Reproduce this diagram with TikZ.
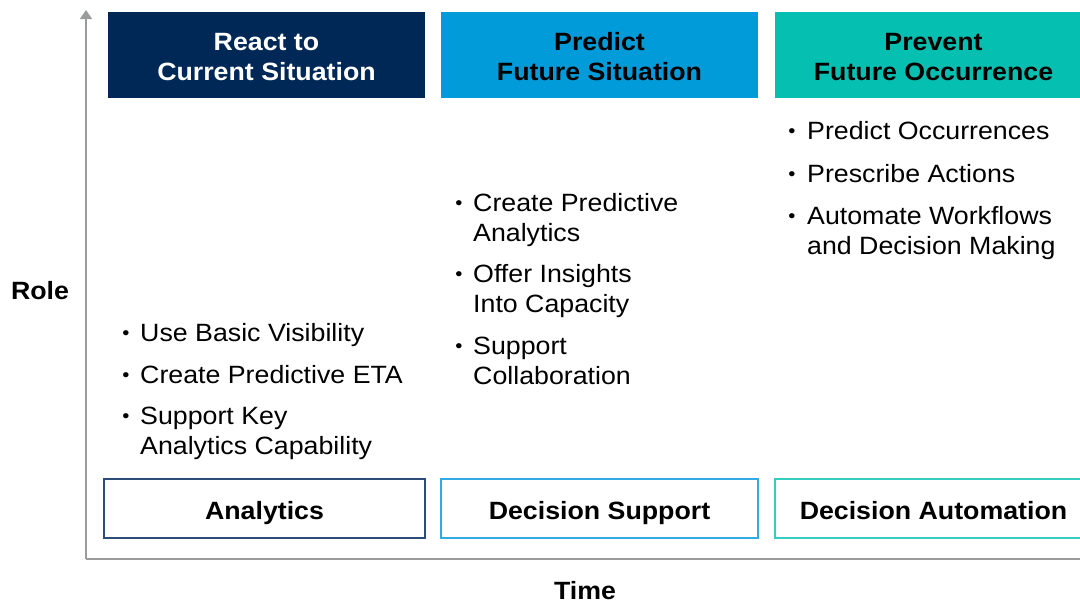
\documentclass[tikz,border=0pt]{standalone}
\usepackage{fontspec}
\setmainfont{Liberation Sans}[FakeStretch=1.07]
\usetikzlibrary{arrows.meta}
\definecolor{navy}{HTML}{002856}
\definecolor{sky}{HTML}{009BD8}
\definecolor{teal}{HTML}{05C0B1}
\definecolor{navyline}{HTML}{2D4D78}
\definecolor{skyline}{HTML}{32AAE2}
\definecolor{tealline}{HTML}{33CEBF}
\definecolor{axisgray}{HTML}{9A9C9C}
\newcommand{\twoline}[2]{\begin{tabular}[t]{@{}l@{}}#1\\#2\end{tabular}}
\newcommand{\twolinec}[2]{\begin{tabular}[t]{@{}c@{}}#1\\#2\end{tabular}}
\tikzset{
  head/.style={minimum height=86pt, minimum width=317pt, inner sep=0pt, text height=10pt, text depth=19pt, font=\fontsize{25}{29.5}\selectfont\bfseries},
  foot/.style={minimum height=59pt, inner sep=0pt, line width=1.8pt, fill=white, text height=21pt, text depth=0pt, font=\fontsize{25}{26}\selectfont\bfseries},
  item/.style={anchor=base west, inner sep=0pt, font=\fontsize{25}{30}\selectfont},
  dot/.style={anchor=base, inner sep=0pt, font=\fontsize{19}{20}\selectfont},
  axislbl/.style={inner sep=0pt, font=\fontsize{25}{26}\selectfont\bfseries},
}
\begin{document}
\begin{tikzpicture}[x=1pt,y=-1pt]
\useasboundingbox (0,0) rectangle (1080,605);
% axes
\coordinate (origin) at (86,559);
\coordinate (ytop) at (86,10);
\coordinate (xend) at (1085,559);
\draw[axisgray, line width=1.5pt, -{Triangle[length=9pt,width=12pt]}] (origin) -- (ytop);
\draw[axisgray, line width=1.5pt] (origin) -- (xend);
\node[axislbl] (role) at (40,291) {Role};
\node[axislbl] (time) at (585,591) {Time};
% headers
\node[head, fill=navy, text=white] (h1) at (266.5,55) {\twolinec{React to}{Current Situation}};
\node[head, fill=sky, text=black] (h2) at (599.5,55) {\twolinec{Predict}{Future Situation}};
\node[head, fill=teal, text=black] (h3) at (933.5,55) {\twolinec{Prevent}{Future Occurrence}};
% footers
\node[foot, draw=navyline, minimum width=321pt] (f1) at (264.5,508.5) {Analytics};
\node[foot, draw=skyline, minimum width=317pt] (f2) at (599.5,508.5) {Decision Support};
\node[foot, draw=tealline, minimum width=317pt] (f3) at (933.5,508.5) {Decision Automation};
% column 1
\node[dot] (b11) at (126,339) {•};
\node[item] (t11) at (140,341) {Use Basic Visibility};
\node[dot] (b12) at (126,381) {•};
\node[item] (t12) at (140,383) {Create Predictive ETA};
\node[dot] (b13) at (126,422) {•};
\node[item] (t13) at (140,424) {\twoline{Support Key}{Analytics Capability}};
% column 2
\node[dot] (b21) at (459,209) {•};
\node[item] (t21) at (473,211) {\twoline{Create Predictive}{Analytics}};
\node[dot] (b22) at (459,280) {•};
\node[item] (t22) at (473,282) {\twoline{Offer Insights}{Into Capacity}};
\node[dot] (b23) at (459,352) {•};
\node[item] (t23) at (473,354) {\twoline{Support}{Collaboration}};
% column 3
\node[dot] (b31) at (792,137) {•};
\node[item] (t31) at (807,139) {Predict Occurrences};
\node[dot] (b32) at (792,180) {•};
\node[item] (t32) at (807,182) {Prescribe Actions};
\node[dot] (b33) at (792,222) {•};
\node[item] (t33) at (807,224) {\twoline{Automate Workflows}{and Decision Making}};
\end{tikzpicture}
\end{document}
